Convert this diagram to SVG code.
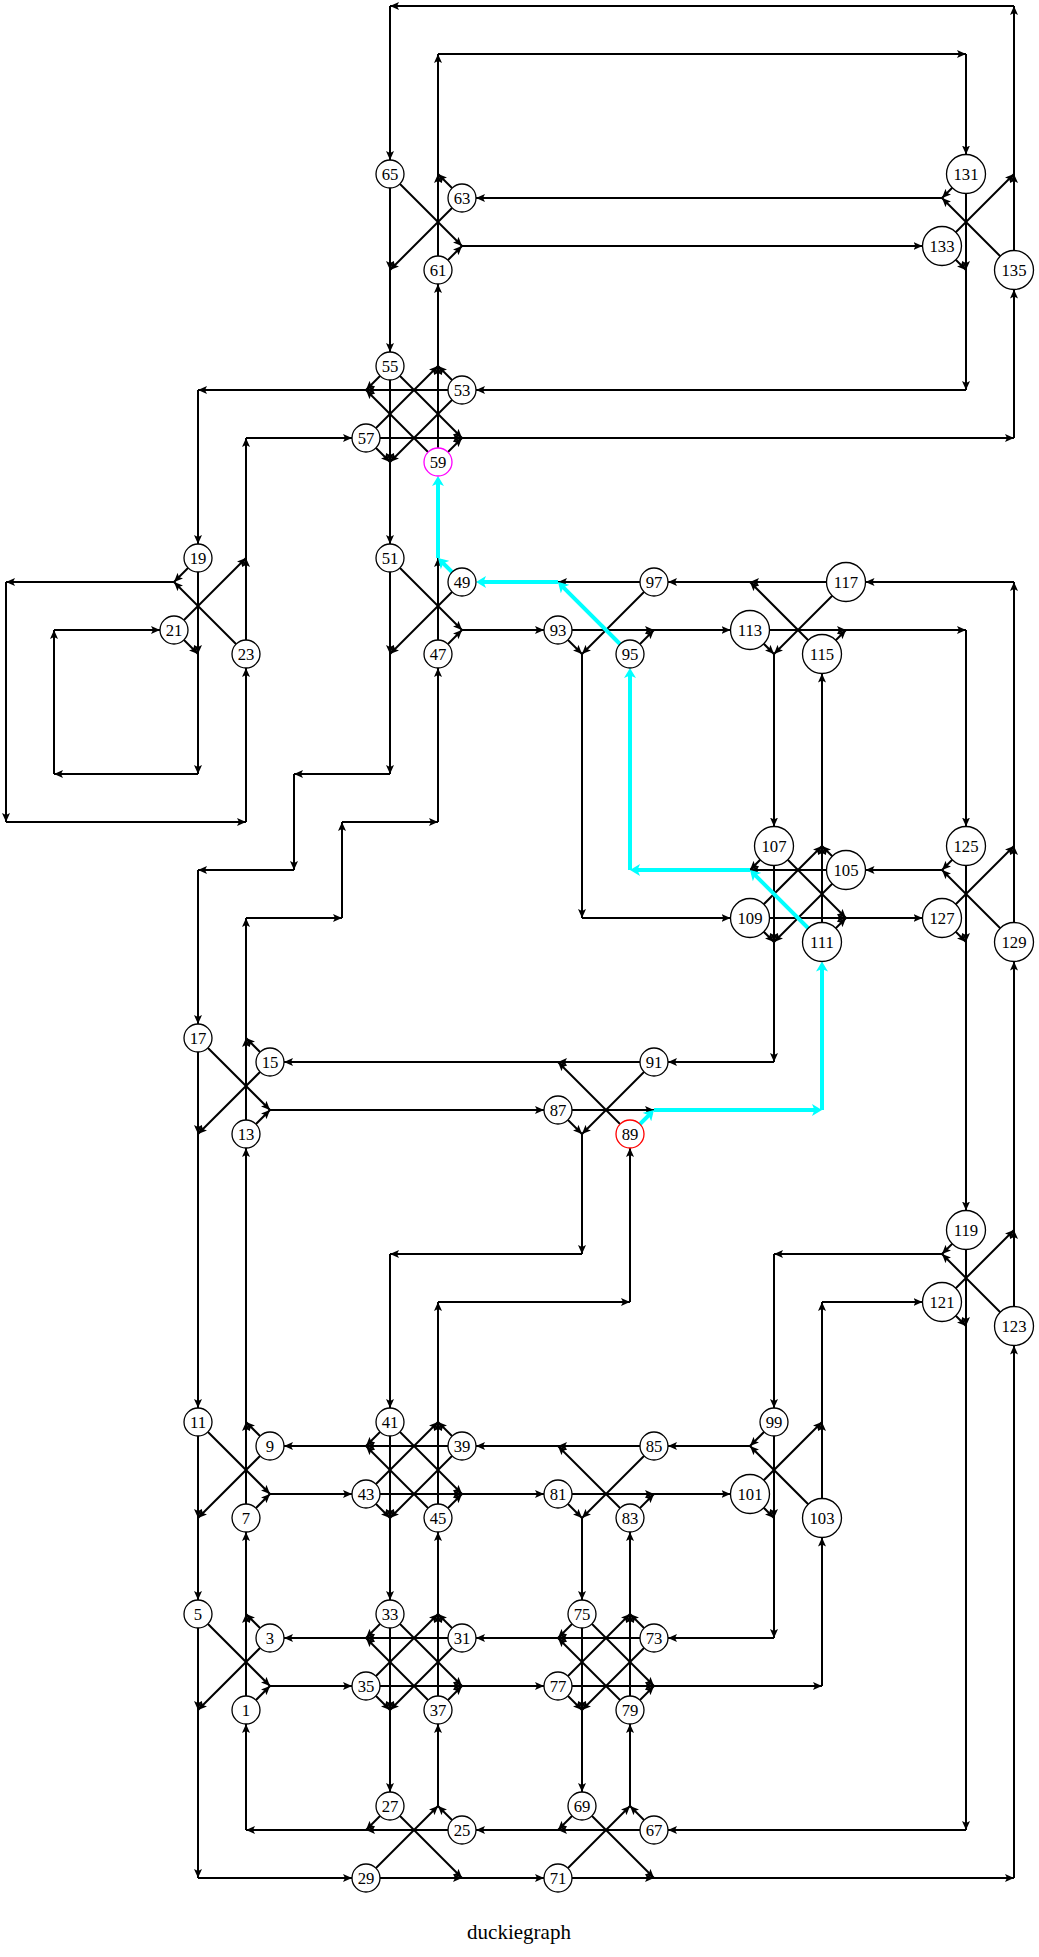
<svg xmlns="http://www.w3.org/2000/svg" width="1039" height="1957" viewBox="0 0 1039 1957">
<style>
.e{fill:none;stroke:#000;stroke-width:2;marker-end:url(#a)}
.c{fill:none;stroke:#00ffff;stroke-width:4;marker-end:url(#ac)}
.n circle{fill:#fff;stroke:#000;stroke-width:1.3}
.n text,.lbl{font-family:"Liberation Serif","Times New Roman",serif;font-size:16.7px;text-anchor:middle;fill:#000}
.lbl{font-size:21px}
</style>
<defs>
<marker id="a" viewBox="0 0 9 8" refX="9" refY="4" markerWidth="9" markerHeight="8" markerUnits="userSpaceOnUse" orient="auto"><path d="M0,0 L9,4 L0,8 L2,4 Z" fill="#000"/></marker>
<marker id="ac" viewBox="0 0 10 12" refX="6" refY="6" markerWidth="10" markerHeight="12" markerUnits="userSpaceOnUse" orient="auto"><path d="M0,0 L10,6 L0,12 L2.5,6 Z" fill="#00ffff"/></marker>
</defs>
<rect width="1039" height="1957" fill="#fff"/>
<g id="edges">
<path class="e" d="M390 174L462 246"/>
<path class="e" d="M390 174L390 270"/>
<path class="e" d="M462 198L438 174"/>
<path class="e" d="M462 198L390 270"/>
<path class="e" d="M438 270L438 174"/>
<path class="e" d="M438 270L462 246"/>
<path class="e" d="M438 174L438 54"/>
<path class="e" d="M438 54L966 54"/>
<path class="e" d="M966 54L966 154.5"/>
<path class="e" d="M462 246L922.5 246"/>
<path class="e" d="M390 270L390 352"/>
<path class="e" d="M966 174L942 198"/>
<path class="e" d="M966 174L966 270"/>
<path class="e" d="M942 246L1014 174"/>
<path class="e" d="M942 246L966 270"/>
<path class="e" d="M1014 270L942 198"/>
<path class="e" d="M1014 270L1014 174"/>
<path class="e" d="M942 198L476 198"/>
<path class="e" d="M1014 174L1014 6"/>
<path class="e" d="M1014 6L390 6"/>
<path class="e" d="M390 6L390 160"/>
<path class="e" d="M966 270L966 390"/>
<path class="e" d="M966 390L476 390"/>
<path class="e" d="M1014 438L1014 289.5"/>
<path class="e" d="M390 366L366 390"/>
<path class="e" d="M390 366L462 438"/>
<path class="e" d="M390 366L390 462"/>
<path class="e" d="M462 390L438 366"/>
<path class="e" d="M462 390L390 462"/>
<path class="e" d="M462 390L366 390"/>
<path class="e" d="M366 438L438 366"/>
<path class="e" d="M366 438L390 462"/>
<path class="e" d="M366 438L462 438"/>
<path class="e" d="M438 462L462 438"/>
<path class="e" d="M438 462L366 390"/>
<path class="e" d="M438 462L438 366"/>
<path class="e" d="M366 390L198 390"/>
<path class="e" d="M198 390L198 544"/>
<path class="e" d="M438 366L438 284"/>
<path class="e" d="M462 438L1014 438"/>
<path class="e" d="M390 462L390 544"/>
<path class="e" d="M246 438L352 438"/>
<path class="e" d="M198 558L174 582"/>
<path class="e" d="M198 558L198 654"/>
<path class="e" d="M174 630L246 558"/>
<path class="e" d="M174 630L198 654"/>
<path class="e" d="M246 654L174 582"/>
<path class="e" d="M246 654L246 558"/>
<path class="e" d="M174 582L6 582"/>
<path class="e" d="M6 582L6 822"/>
<path class="e" d="M6 822L246 822"/>
<path class="e" d="M246 822L246 668"/>
<path class="e" d="M198 654L198 774"/>
<path class="e" d="M198 774L54 774"/>
<path class="e" d="M54 774L54 630"/>
<path class="e" d="M54 630L160 630"/>
<path class="e" d="M246 558L246 438"/>
<path class="e" d="M390 558L462 630"/>
<path class="e" d="M390 558L390 654"/>
<path class="e" d="M462 582L390 654"/>
<path class="e" d="M438 654L438 558"/>
<path class="e" d="M438 654L462 630"/>
<path class="e" d="M462 630L544 630"/>
<path class="e" d="M390 654L390 774"/>
<path class="e" d="M390 774L294 774"/>
<path class="e" d="M294 774L294 870"/>
<path class="e" d="M294 870L198 870"/>
<path class="e" d="M198 870L198 1024"/>
<path class="e" d="M438 822L438 668"/>
<path class="e" d="M342 822L438 822"/>
<path class="e" d="M342 918L342 822"/>
<path class="e" d="M246 918L342 918"/>
<path class="e" d="M246 1038L246 918"/>
<path class="e" d="M198 1038L270 1110"/>
<path class="e" d="M198 1038L198 1134"/>
<path class="e" d="M270 1062L246 1038"/>
<path class="e" d="M270 1062L198 1134"/>
<path class="e" d="M246 1134L246 1038"/>
<path class="e" d="M246 1134L270 1110"/>
<path class="e" d="M270 1110L544 1110"/>
<path class="e" d="M198 1134L198 1408"/>
<path class="e" d="M558 1062L284 1062"/>
<path class="e" d="M246 1422L246 1148"/>
<path class="e" d="M198 1422L270 1494"/>
<path class="e" d="M198 1422L198 1518"/>
<path class="e" d="M270 1446L246 1422"/>
<path class="e" d="M270 1446L198 1518"/>
<path class="e" d="M246 1518L246 1422"/>
<path class="e" d="M246 1518L270 1494"/>
<path class="e" d="M270 1494L352 1494"/>
<path class="e" d="M198 1518L198 1600"/>
<path class="e" d="M366 1446L284 1446"/>
<path class="e" d="M246 1614L246 1532"/>
<path class="e" d="M198 1614L270 1686"/>
<path class="e" d="M198 1614L198 1710"/>
<path class="e" d="M270 1638L246 1614"/>
<path class="e" d="M270 1638L198 1710"/>
<path class="e" d="M246 1710L246 1614"/>
<path class="e" d="M246 1710L270 1686"/>
<path class="e" d="M270 1686L352 1686"/>
<path class="e" d="M198 1710L198 1878"/>
<path class="e" d="M198 1878L352 1878"/>
<path class="e" d="M366 1638L284 1638"/>
<path class="e" d="M246 1830L246 1724"/>
<path class="e" d="M390 1614L366 1638"/>
<path class="e" d="M390 1614L462 1686"/>
<path class="e" d="M390 1614L390 1710"/>
<path class="e" d="M462 1638L438 1614"/>
<path class="e" d="M462 1638L390 1710"/>
<path class="e" d="M462 1638L366 1638"/>
<path class="e" d="M366 1686L438 1614"/>
<path class="e" d="M366 1686L390 1710"/>
<path class="e" d="M366 1686L462 1686"/>
<path class="e" d="M438 1710L462 1686"/>
<path class="e" d="M438 1710L366 1638"/>
<path class="e" d="M438 1710L438 1614"/>
<path class="e" d="M438 1614L438 1532"/>
<path class="e" d="M462 1686L544 1686"/>
<path class="e" d="M390 1710L390 1792"/>
<path class="e" d="M558 1638L476 1638"/>
<path class="e" d="M438 1806L438 1724"/>
<path class="e" d="M390 1806L366 1830"/>
<path class="e" d="M390 1806L462 1878"/>
<path class="e" d="M462 1830L438 1806"/>
<path class="e" d="M462 1830L366 1830"/>
<path class="e" d="M366 1878L438 1806"/>
<path class="e" d="M366 1878L462 1878"/>
<path class="e" d="M366 1830L246 1830"/>
<path class="e" d="M462 1878L544 1878"/>
<path class="e" d="M558 1830L476 1830"/>
<path class="e" d="M390 1422L366 1446"/>
<path class="e" d="M390 1422L462 1494"/>
<path class="e" d="M390 1422L390 1518"/>
<path class="e" d="M462 1446L438 1422"/>
<path class="e" d="M462 1446L390 1518"/>
<path class="e" d="M462 1446L366 1446"/>
<path class="e" d="M366 1494L438 1422"/>
<path class="e" d="M366 1494L390 1518"/>
<path class="e" d="M366 1494L462 1494"/>
<path class="e" d="M438 1518L462 1494"/>
<path class="e" d="M438 1518L366 1446"/>
<path class="e" d="M438 1518L438 1422"/>
<path class="e" d="M438 1422L438 1302"/>
<path class="e" d="M438 1302L630 1302"/>
<path class="e" d="M630 1302L630 1148"/>
<path class="e" d="M462 1494L544 1494"/>
<path class="e" d="M390 1518L390 1600"/>
<path class="e" d="M390 1254L390 1408"/>
<path class="e" d="M582 1254L390 1254"/>
<path class="e" d="M654 1062L558 1062"/>
<path class="e" d="M654 1062L582 1134"/>
<path class="e" d="M558 1110L582 1134"/>
<path class="e" d="M558 1110L654 1110"/>
<path class="e" d="M630 1134L558 1062"/>
<path class="e" d="M582 1134L582 1254"/>
<path class="e" d="M774 1062L668 1062"/>
<path class="e" d="M774 846L750 870"/>
<path class="e" d="M774 846L846 918"/>
<path class="e" d="M774 846L774 942"/>
<path class="e" d="M846 870L822 846"/>
<path class="e" d="M846 870L774 942"/>
<path class="e" d="M846 870L750 870"/>
<path class="e" d="M750 918L822 846"/>
<path class="e" d="M750 918L774 942"/>
<path class="e" d="M750 918L846 918"/>
<path class="e" d="M822 942L846 918"/>
<path class="e" d="M822 942L822 846"/>
<path class="e" d="M822 846L822 673.5"/>
<path class="e" d="M846 918L922.5 918"/>
<path class="e" d="M774 942L774 1062"/>
<path class="e" d="M774 654L774 826.5"/>
<path class="e" d="M942 870L865.5 870"/>
<path class="e" d="M582 918L730.5 918"/>
<path class="e" d="M846 582L750 582"/>
<path class="e" d="M846 582L774 654"/>
<path class="e" d="M750 630L774 654"/>
<path class="e" d="M750 630L846 630"/>
<path class="e" d="M822 654L750 582"/>
<path class="e" d="M822 654L846 630"/>
<path class="e" d="M750 582L668 582"/>
<path class="e" d="M846 630L966 630"/>
<path class="e" d="M966 630L966 826.5"/>
<path class="e" d="M1014 582L865.5 582"/>
<path class="e" d="M654 630L730.5 630"/>
<path class="e" d="M654 582L558 582"/>
<path class="e" d="M654 582L582 654"/>
<path class="e" d="M558 630L582 654"/>
<path class="e" d="M558 630L654 630"/>
<path class="e" d="M630 654L654 630"/>
<path class="e" d="M582 654L582 918"/>
<path class="e" d="M966 846L942 870"/>
<path class="e" d="M966 846L966 942"/>
<path class="e" d="M942 918L1014 846"/>
<path class="e" d="M942 918L966 942"/>
<path class="e" d="M1014 942L942 870"/>
<path class="e" d="M1014 942L1014 846"/>
<path class="e" d="M1014 846L1014 582"/>
<path class="e" d="M966 942L966 1210.5"/>
<path class="e" d="M1014 1230L1014 961.5"/>
<path class="e" d="M966 1230L942 1254"/>
<path class="e" d="M966 1230L966 1326"/>
<path class="e" d="M942 1302L1014 1230"/>
<path class="e" d="M942 1302L966 1326"/>
<path class="e" d="M1014 1326L942 1254"/>
<path class="e" d="M1014 1326L1014 1230"/>
<path class="e" d="M942 1254L774 1254"/>
<path class="e" d="M774 1254L774 1408"/>
<path class="e" d="M966 1326L966 1830"/>
<path class="e" d="M966 1830L668 1830"/>
<path class="e" d="M822 1302L922.5 1302"/>
<path class="e" d="M1014 1878L1014 1345.5"/>
<path class="e" d="M774 1422L750 1446"/>
<path class="e" d="M774 1422L774 1518"/>
<path class="e" d="M750 1494L822 1422"/>
<path class="e" d="M750 1494L774 1518"/>
<path class="e" d="M822 1518L750 1446"/>
<path class="e" d="M822 1518L822 1422"/>
<path class="e" d="M750 1446L668 1446"/>
<path class="e" d="M822 1422L822 1302"/>
<path class="e" d="M774 1518L774 1638"/>
<path class="e" d="M774 1638L668 1638"/>
<path class="e" d="M822 1686L822 1537.5"/>
<path class="e" d="M654 1494L730.5 1494"/>
<path class="e" d="M654 1446L558 1446"/>
<path class="e" d="M654 1446L582 1518"/>
<path class="e" d="M558 1494L582 1518"/>
<path class="e" d="M558 1494L654 1494"/>
<path class="e" d="M630 1518L558 1446"/>
<path class="e" d="M630 1518L654 1494"/>
<path class="e" d="M558 1446L476 1446"/>
<path class="e" d="M582 1518L582 1600"/>
<path class="e" d="M630 1614L630 1532"/>
<path class="e" d="M582 1614L558 1638"/>
<path class="e" d="M582 1614L654 1686"/>
<path class="e" d="M582 1614L582 1710"/>
<path class="e" d="M654 1638L630 1614"/>
<path class="e" d="M654 1638L582 1710"/>
<path class="e" d="M654 1638L558 1638"/>
<path class="e" d="M558 1686L630 1614"/>
<path class="e" d="M558 1686L582 1710"/>
<path class="e" d="M558 1686L654 1686"/>
<path class="e" d="M630 1710L654 1686"/>
<path class="e" d="M630 1710L558 1638"/>
<path class="e" d="M630 1710L630 1614"/>
<path class="e" d="M654 1686L822 1686"/>
<path class="e" d="M582 1710L582 1792"/>
<path class="e" d="M630 1806L630 1724"/>
<path class="e" d="M582 1806L558 1830"/>
<path class="e" d="M582 1806L654 1878"/>
<path class="e" d="M654 1830L630 1806"/>
<path class="e" d="M654 1830L558 1830"/>
<path class="e" d="M558 1878L630 1806"/>
<path class="e" d="M558 1878L654 1878"/>
<path class="e" d="M654 1878L1014 1878"/>
<path class="c" d="M462 582L440.83 560.83"/>
<path class="c" d="M438 558L438 480"/>
<path class="c" d="M630 1134L651.17 1112.83"/>
<path class="c" d="M654 1110L818 1110"/>
<path class="c" d="M822 1110L822 965.5"/>
<path class="c" d="M822 942L752.83 872.83"/>
<path class="c" d="M750 870L634 870"/>
<path class="c" d="M630 870L630 672"/>
<path class="c" d="M630 654L560.83 584.83"/>
<path class="c" d="M558 582L480 582"/>
</g>
<g id="n1" class="n"><circle cx="246" cy="1710" r="14"/><text x="246" y="1716">1</text></g>
<g id="n3" class="n"><circle cx="270" cy="1638" r="14"/><text x="270" y="1644">3</text></g>
<g id="n5" class="n"><circle cx="198" cy="1614" r="14"/><text x="198" y="1620">5</text></g>
<g id="n7" class="n"><circle cx="246" cy="1518" r="14"/><text x="246" y="1524">7</text></g>
<g id="n9" class="n"><circle cx="270" cy="1446" r="14"/><text x="270" y="1452">9</text></g>
<g id="n11" class="n"><circle cx="198" cy="1422" r="14"/><text x="198" y="1428">11</text></g>
<g id="n13" class="n"><circle cx="246" cy="1134" r="14"/><text x="246" y="1140">13</text></g>
<g id="n15" class="n"><circle cx="270" cy="1062" r="14"/><text x="270" y="1068">15</text></g>
<g id="n17" class="n"><circle cx="198" cy="1038" r="14"/><text x="198" y="1044">17</text></g>
<g id="n19" class="n"><circle cx="198" cy="558" r="14"/><text x="198" y="564">19</text></g>
<g id="n21" class="n"><circle cx="174" cy="630" r="14"/><text x="174" y="636">21</text></g>
<g id="n23" class="n"><circle cx="246" cy="654" r="14"/><text x="246" y="660">23</text></g>
<g id="n25" class="n"><circle cx="462" cy="1830" r="14"/><text x="462" y="1836">25</text></g>
<g id="n27" class="n"><circle cx="390" cy="1806" r="14"/><text x="390" y="1812">27</text></g>
<g id="n29" class="n"><circle cx="366" cy="1878" r="14"/><text x="366" y="1884">29</text></g>
<g id="n31" class="n"><circle cx="462" cy="1638" r="14"/><text x="462" y="1644">31</text></g>
<g id="n33" class="n"><circle cx="390" cy="1614" r="14"/><text x="390" y="1620">33</text></g>
<g id="n35" class="n"><circle cx="366" cy="1686" r="14"/><text x="366" y="1692">35</text></g>
<g id="n37" class="n"><circle cx="438" cy="1710" r="14"/><text x="438" y="1716">37</text></g>
<g id="n39" class="n"><circle cx="462" cy="1446" r="14"/><text x="462" y="1452">39</text></g>
<g id="n41" class="n"><circle cx="390" cy="1422" r="14"/><text x="390" y="1428">41</text></g>
<g id="n43" class="n"><circle cx="366" cy="1494" r="14"/><text x="366" y="1500">43</text></g>
<g id="n45" class="n"><circle cx="438" cy="1518" r="14"/><text x="438" y="1524">45</text></g>
<g id="n47" class="n"><circle cx="438" cy="654" r="14"/><text x="438" y="660">47</text></g>
<g id="n49" class="n"><circle cx="462" cy="582" r="14"/><text x="462" y="588">49</text></g>
<g id="n51" class="n"><circle cx="390" cy="558" r="14"/><text x="390" y="564">51</text></g>
<g id="n53" class="n"><circle cx="462" cy="390" r="14"/><text x="462" y="396">53</text></g>
<g id="n55" class="n"><circle cx="390" cy="366" r="14"/><text x="390" y="372">55</text></g>
<g id="n57" class="n"><circle cx="366" cy="438" r="14"/><text x="366" y="444">57</text></g>
<g id="n59" class="n"><circle cx="438" cy="462" r="14" style="stroke:#ff00ff"/><text x="438" y="468">59</text></g>
<g id="n61" class="n"><circle cx="438" cy="270" r="14"/><text x="438" y="276">61</text></g>
<g id="n63" class="n"><circle cx="462" cy="198" r="14"/><text x="462" y="204">63</text></g>
<g id="n65" class="n"><circle cx="390" cy="174" r="14"/><text x="390" y="180">65</text></g>
<g id="n67" class="n"><circle cx="654" cy="1830" r="14"/><text x="654" y="1836">67</text></g>
<g id="n69" class="n"><circle cx="582" cy="1806" r="14"/><text x="582" y="1812">69</text></g>
<g id="n71" class="n"><circle cx="558" cy="1878" r="14"/><text x="558" y="1884">71</text></g>
<g id="n73" class="n"><circle cx="654" cy="1638" r="14"/><text x="654" y="1644">73</text></g>
<g id="n75" class="n"><circle cx="582" cy="1614" r="14"/><text x="582" y="1620">75</text></g>
<g id="n77" class="n"><circle cx="558" cy="1686" r="14"/><text x="558" y="1692">77</text></g>
<g id="n79" class="n"><circle cx="630" cy="1710" r="14"/><text x="630" y="1716">79</text></g>
<g id="n81" class="n"><circle cx="558" cy="1494" r="14"/><text x="558" y="1500">81</text></g>
<g id="n83" class="n"><circle cx="630" cy="1518" r="14"/><text x="630" y="1524">83</text></g>
<g id="n85" class="n"><circle cx="654" cy="1446" r="14"/><text x="654" y="1452">85</text></g>
<g id="n87" class="n"><circle cx="558" cy="1110" r="14"/><text x="558" y="1116">87</text></g>
<g id="n89" class="n"><circle cx="630" cy="1134" r="14" style="stroke:#ff0000"/><text x="630" y="1140">89</text></g>
<g id="n91" class="n"><circle cx="654" cy="1062" r="14"/><text x="654" y="1068">91</text></g>
<g id="n93" class="n"><circle cx="558" cy="630" r="14"/><text x="558" y="636">93</text></g>
<g id="n95" class="n"><circle cx="630" cy="654" r="14"/><text x="630" y="660">95</text></g>
<g id="n97" class="n"><circle cx="654" cy="582" r="14"/><text x="654" y="588">97</text></g>
<g id="n99" class="n"><circle cx="774" cy="1422" r="14"/><text x="774" y="1428">99</text></g>
<g id="n101" class="n"><circle cx="750" cy="1494" r="19.5"/><text x="750" y="1500">101</text></g>
<g id="n103" class="n"><circle cx="822" cy="1518" r="19.5"/><text x="822" y="1524">103</text></g>
<g id="n105" class="n"><circle cx="846" cy="870" r="19.5"/><text x="846" y="876">105</text></g>
<g id="n107" class="n"><circle cx="774" cy="846" r="19.5"/><text x="774" y="852">107</text></g>
<g id="n109" class="n"><circle cx="750" cy="918" r="19.5"/><text x="750" y="924">109</text></g>
<g id="n111" class="n"><circle cx="822" cy="942" r="19.5"/><text x="822" y="948">111</text></g>
<g id="n113" class="n"><circle cx="750" cy="630" r="19.5"/><text x="750" y="636">113</text></g>
<g id="n115" class="n"><circle cx="822" cy="654" r="19.5"/><text x="822" y="660">115</text></g>
<g id="n117" class="n"><circle cx="846" cy="582" r="19.5"/><text x="846" y="588">117</text></g>
<g id="n119" class="n"><circle cx="966" cy="1230" r="19.5"/><text x="966" y="1236">119</text></g>
<g id="n121" class="n"><circle cx="942" cy="1302" r="19.5"/><text x="942" y="1308">121</text></g>
<g id="n123" class="n"><circle cx="1014" cy="1326" r="19.5"/><text x="1014" y="1332">123</text></g>
<g id="n125" class="n"><circle cx="966" cy="846" r="19.5"/><text x="966" y="852">125</text></g>
<g id="n127" class="n"><circle cx="942" cy="918" r="19.5"/><text x="942" y="924">127</text></g>
<g id="n129" class="n"><circle cx="1014" cy="942" r="19.5"/><text x="1014" y="948">129</text></g>
<g id="n131" class="n"><circle cx="966" cy="174" r="19.5"/><text x="966" y="180">131</text></g>
<g id="n133" class="n"><circle cx="942" cy="246" r="19.5"/><text x="942" y="252">133</text></g>
<g id="n135" class="n"><circle cx="1014" cy="270" r="19.5"/><text x="1014" y="276">135</text></g>
<text class="lbl" x="519" y="1939">duckiegraph</text>
</svg>
